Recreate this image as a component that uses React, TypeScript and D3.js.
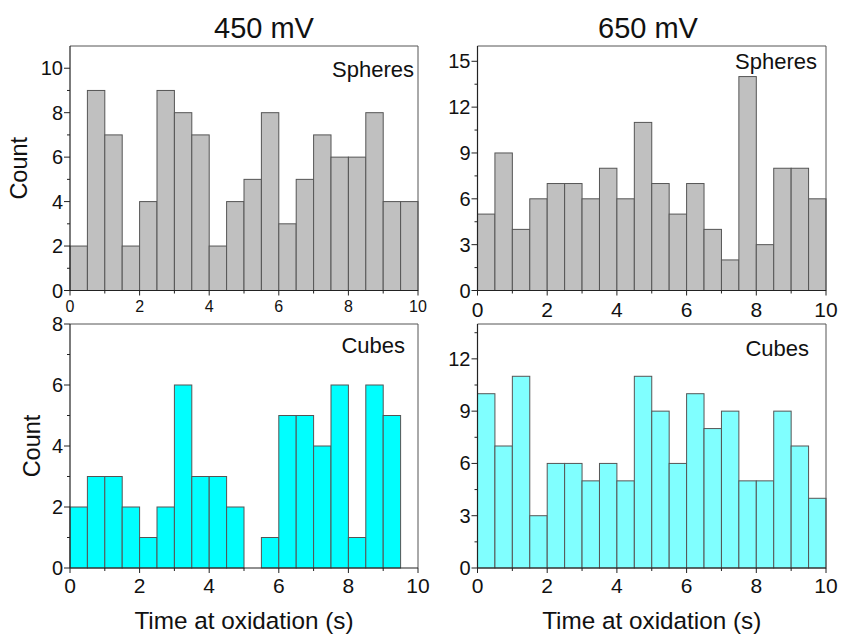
import React from "react";
import * as d3 from "d3";

const binEdges = d3.range(0, 10.0001, 0.5);
const spheres450 = [2, 9, 7, 2, 4, 9, 8, 7, 2, 4, 5, 8, 3, 5, 7, 6, 6, 8, 4, 4];
const spheres650 = [5, 9, 4, 6, 7, 7, 6, 8, 6, 11, 7, 5, 7, 4, 2, 14, 3, 8, 8, 6];
const cubes450 = [2, 3, 3, 2, 1, 2, 6, 3, 3, 2, 0, 1, 5, 5, 4, 6, 1, 6, 5, 0];
const cubes650 = [10, 7, 11, 3, 6, 6, 5, 6, 5, 11, 9, 6, 10, 8, 9, 5, 5, 9, 7, 4];
const xTicks = [0, 2, 4, 6, 8, 10];
const titles = ["450 mV", "650 mV"];
const xLabel = "Time at oxidation (s)";
const yLabel = "Count";

const FONT = "'Liberation Sans', Arial, sans-serif";

type PanelProps = {
  data: number[];
  left: number;
  right: number;
  top: number;
  bottom: number;
  ymax: number;
  ystep: number;
  fill: string;
  label: string;
  labelRight: number;
  labelBaseline: number;
  xTickFont: number;
  xTickBaseline: number;
  showYLabel?: boolean;
  yLabelX?: number;
  showXLabel?: boolean;
};

function Panel(p: PanelProps) {
  const x = d3.scaleLinear().domain([0, 10]).range([p.left, p.right]);
  const y = d3.scaleLinear().domain([0, p.ymax]).range([p.bottom, p.top]);
  const yMajor = d3.range(0, p.ymax + 0.001, p.ystep);
  const yMinor = d3.range(p.ystep / 2, p.ymax, p.ystep).filter((v) => v < p.ymax);
  const xMinor = [1, 3, 5, 7, 9];
  const axisColor = "#222";
  return (
    <g>
      {p.data.map((v, i) =>
        v > 0 ? (
          <rect
            key={i}
            x={x(binEdges[i])}
            y={y(v)}
            width={x(binEdges[i + 1]) - x(binEdges[i])}
            height={y(0) - y(v)}
            fill={p.fill}
            stroke="#555"
            strokeWidth={1}
          />
        ) : null
      )}
      <line x1={p.left} x2={p.right} y1={p.top} y2={p.top} stroke="#555" strokeWidth={1} />
      <line x1={p.right} x2={p.right} y1={p.top} y2={p.bottom} stroke="#555" strokeWidth={1} />
      <line x1={p.left} x2={p.right} y1={p.bottom} y2={p.bottom} stroke={axisColor} strokeWidth={1.2} />
      <line x1={p.left} x2={p.left} y1={p.top} y2={p.bottom} stroke={axisColor} strokeWidth={1.2} />
      {yMajor.map((v) => (
        <g key={"ym" + v}>
          <line x1={p.left - 6} x2={p.left} y1={y(v)} y2={y(v)} stroke={axisColor} strokeWidth={1} />
          <text
            x={p.left - 7}
            y={y(v)}
            dy="0.35em"
            textAnchor="end"
            fontSize={20}
            fontFamily={FONT}
            fill="#111"
          >
            {v}
          </text>
        </g>
      ))}
      {yMinor.map((v) => (
        <line key={"yn" + v} x1={p.left - 3} x2={p.left} y1={y(v)} y2={y(v)} stroke={axisColor} strokeWidth={1} />
      ))}
      {xTicks.map((v) => (
        <g key={"xm" + v}>
          <line x1={x(v)} x2={x(v)} y1={p.bottom} y2={p.bottom + 5} stroke={axisColor} strokeWidth={1} />
          <text
            x={x(v)}
            y={p.xTickBaseline}
            textAnchor="middle"
            fontSize={p.xTickFont}
            fontFamily={FONT}
            fill="#111"
          >
            {v}
          </text>
        </g>
      ))}
      {xMinor.map((v) => (
        <line key={"xn" + v} x1={x(v)} x2={x(v)} y1={p.bottom} y2={p.bottom + 3} stroke={axisColor} strokeWidth={1} />
      ))}
      <text
        x={p.labelRight}
        y={p.labelBaseline}
        textAnchor="end"
        fontSize={22}
        fontFamily={FONT}
        fill="#111"
      >
        {p.label}
      </text>
      {p.showYLabel ? (
        <text
          transform={`translate(${p.yLabelX},${(p.top + p.bottom) / 2}) rotate(-90)`}
          textAnchor="middle"
          fontSize={23.5}
          fontFamily={FONT}
          fill="#111"
        >
          {yLabel}
        </text>
      ) : null}
      {p.showXLabel ? (
        <text
          x={(p.left + p.right) / 2}
          y={629}
          textAnchor="middle"
          fontSize={24.3}
          fontFamily={FONT}
          fill="#111"
        >
          {xLabel}
        </text>
      ) : null}
    </g>
  );
}

export default function App() {
  const L1 = 70, R1 = 418, L2 = 477.5, R2 = 826;
  const T1 = 46, B1 = 290.5, T2 = 324, B2 = 568;
  return (
    <svg
      width={842}
      height={635}
      style={{ position: "absolute", left: 0, top: 0, background: "#fff" }}
    >
      <rect width={842} height={635} fill="#fff" />
      <text x={264} y={38} textAnchor="middle" fontSize={29} fontFamily={FONT} fill="#111">
        {titles[0]}
      </text>
      <text x={648} y={38} textAnchor="middle" fontSize={29} fontFamily={FONT} fill="#111">
        {titles[1]}
      </text>
      <Panel
        data={spheres450}
        left={L1} right={R1} top={T1} bottom={B1}
        ymax={11} ystep={2} fill="#c0c0c0"
        label="Spheres" labelRight={414} labelBaseline={77}
        xTickFont={16} xTickBaseline={312}
        showYLabel yLabelX={27}
      />
      <Panel
        data={spheres650}
        left={L2} right={R2} top={T1} bottom={B1}
        ymax={16} ystep={3} fill="#c0c0c0"
        label="Spheres" labelRight={817} labelBaseline={69}
        xTickFont={21} xTickBaseline={317}
      />
      <Panel
        data={cubes450}
        left={L1} right={R1} top={T2} bottom={B2}
        ymax={8} ystep={2} fill="#00ffff"
        label="Cubes" labelRight={405} labelBaseline={353}
        xTickFont={21} xTickBaseline={593}
        showYLabel yLabelX={40} showXLabel
      />
      <Panel
        data={cubes650}
        left={L2} right={R2} top={T2} bottom={B2}
        ymax={14} ystep={3} fill="#80ffff"
        label="Cubes" labelRight={809} labelBaseline={356}
        xTickFont={21} xTickBaseline={593}
        showXLabel
      />
    </svg>
  );
}
